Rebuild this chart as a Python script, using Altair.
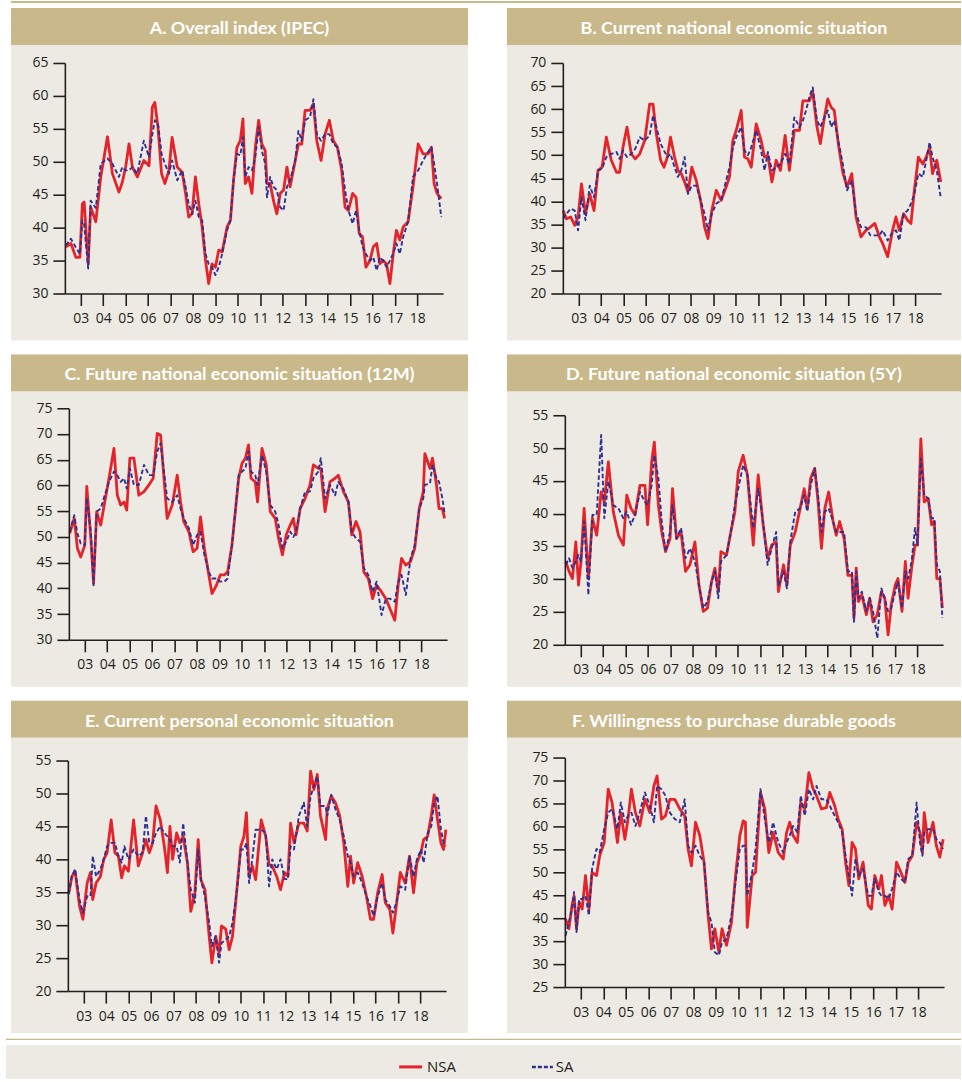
import altair as alt
import pandas as pd

# ---------------- data ----------------
years_A = [2002.33, 2002.56, 2002.78, 2002.96, 2003.07, 2003.15, 2003.33, 2003.44, 2003.67, 2003.89,
           2004.19, 2004.41, 2004.70, 2004.85, 2005.00, 2005.15, 2005.30, 2005.52, 2005.81, 2006.04,
           2006.19, 2006.30, 2006.44, 2006.60, 2006.75, 2006.93, 2007.07, 2007.30, 2007.52, 2007.67,
           2007.81, 2007.96, 2008.11, 2008.26, 2008.41, 2008.56, 2008.70, 2008.85, 2009.00, 2009.15,
           2009.30, 2009.52, 2009.67, 2009.81, 2009.96, 2010.11, 2010.23, 2010.33, 2010.48, 2010.63,
           2010.78, 2010.93, 2011.07, 2011.22, 2011.30, 2011.44, 2011.59, 2011.74, 2011.89, 2012.04,
           2012.19, 2012.33, 2012.56, 2012.70, 2012.85, 2013.00, 2013.22, 2013.37, 2013.52, 2013.71,
           2013.89, 2014.08, 2014.26, 2014.44, 2014.63, 2014.78, 2014.93, 2015.12, 2015.27, 2015.41,
           2015.56, 2015.71, 2015.89, 2016.04, 2016.19, 2016.33, 2016.48, 2016.63, 2016.78, 2016.93,
           2017.07, 2017.22, 2017.37, 2017.59, 2017.81, 2018.04, 2018.26, 2018.48, 2018.63, 2018.75,
           2018.88, 2019.07]
nsa_A = [37.1, 37.6, 35.5, 35.5, 43.6, 43.9, 34.5, 43.1, 40.9, 47.7,
         53.8, 48.2, 45.4, 46.9, 49.2, 52.7, 49.2, 47.7, 50.2, 49.4,
         58.3, 59.0, 55.3, 48.2, 46.7, 48.7, 53.7, 49.2, 48.4, 45.2,
         41.6, 42.1, 47.7, 43.6, 40.1, 35.0, 31.5, 34.5, 34.0, 36.6,
         36.3, 40.1, 41.1, 47.2, 52.2, 53.2, 56.5, 46.7, 47.7, 45.2,
         52.2, 56.3, 52.7, 51.7, 46.7, 46.7, 44.1, 42.1, 45.2, 45.7,
         49.2, 46.2, 50.2, 52.7, 52.7, 57.8, 57.8, 58.8, 53.2, 50.2,
         54.2, 56.3, 53.2, 52.2, 48.7, 43.1, 42.6, 45.2, 44.6, 39.1,
         38.6, 34.0, 35.0, 37.1, 37.6, 34.5, 35.0, 34.5, 31.5, 36.1,
         39.6, 38.1, 40.1, 40.9, 46.2, 52.7, 51.2, 51.2, 52.2, 46.7,
         45.2, 44.4]
sa_A = [37.3, 38.3, 37.0, 36.0, 41.1, 40.5, 33.8, 44.1, 43.0, 49.7,
        50.5, 49.7, 47.7, 49.2, 48.7, 48.7, 49.2, 48.2, 53.2, 50.7,
        54.2, 56.3, 55.8, 51.2, 49.7, 48.2, 50.2, 47.2, 48.7, 46.2,
        43.6, 42.1, 44.1, 41.6, 41.1, 36.0, 34.5, 34.0, 32.8, 34.0,
        36.0, 39.6, 41.1, 47.2, 51.2, 51.0, 53.7, 47.7, 49.2, 48.7,
        50.7, 55.3, 51.7, 49.7, 44.6, 47.7, 46.2, 45.7, 43.1, 42.6,
        46.2, 47.2, 50.2, 54.7, 53.2, 56.3, 56.8, 59.5, 54.2, 53.2,
        54.2, 54.2, 52.7, 52.2, 49.7, 45.7, 42.6, 40.6, 42.6, 39.6,
        37.1, 36.0, 35.0, 35.5, 33.5, 35.5, 35.0, 34.0, 35.0, 36.1,
        37.6, 36.0, 38.6, 40.9, 47.7, 48.7, 50.2, 51.5, 52.2, 49.7,
        46.7, 41.6]

years_B = [2002.30, 2002.45, 2002.64, 2002.82, 2002.97, 2003.12, 2003.30, 2003.49, 2003.68, 2003.86,
           2004.04, 2004.23, 2004.45, 2004.68, 2004.82, 2004.97, 2005.15, 2005.34, 2005.52, 2005.72,
           2005.94, 2006.16, 2006.31, 2006.46, 2006.65, 2006.80, 2006.95, 2007.09, 2007.27, 2007.42,
           2007.57, 2007.72, 2007.87, 2008.04, 2008.24, 2008.43, 2008.61, 2008.76, 2008.93, 2009.13,
           2009.35, 2009.57, 2009.72, 2009.87, 2010.02, 2010.24, 2010.39, 2010.54, 2010.69, 2010.91,
           2011.13, 2011.28, 2011.43, 2011.61, 2011.80, 2011.99, 2012.20, 2012.39, 2012.61, 2012.84,
           2012.99, 2013.13, 2013.28, 2013.43, 2013.62, 2013.77, 2013.95, 2014.10, 2014.25, 2014.39,
           2014.57, 2014.77, 2014.96, 2015.17, 2015.36, 2015.58, 2015.80, 2016.00, 2016.20, 2016.40,
           2016.55, 2016.77, 2016.99, 2017.14, 2017.29, 2017.48, 2017.66, 2017.81, 2017.96, 2018.14,
           2018.34, 2018.49, 2018.64, 2018.77, 2018.96, 2019.14]
nsa_B = [38.0, 36.2, 36.6, 34.8, 36.6, 43.8, 37.3, 41.6, 38.0, 46.7,
         47.4, 53.9, 48.9, 46.3, 46.3, 51.7, 56.1, 50.3, 49.2, 50.3,
         53.2, 61.1, 61.1, 54.6, 48.9, 47.4, 49.6, 53.9, 49.6, 46.7,
         46.0, 44.2, 42.0, 47.4, 44.5, 40.2, 34.4, 31.9, 38.0, 42.4,
         40.2, 43.1, 45.3, 53.2, 55.4, 59.7, 49.6, 49.2, 47.4, 56.8,
         53.2, 49.6, 49.9, 44.2, 48.9, 46.7, 54.3, 46.7, 55.4, 55.4,
         61.8, 61.8, 61.8, 63.7, 56.1, 52.5, 58.2, 62.2, 60.4, 59.7,
         52.5, 46.3, 43.1, 46.0, 36.6, 32.3, 33.7, 34.4, 35.2, 32.3,
         30.8, 28.0, 33.7, 36.6, 33.7, 37.3, 35.9, 35.2, 42.4, 49.6,
         48.1, 49.6, 51.7, 46.0, 48.9, 44.2]
sa_B = [36.2, 37.3, 38.4, 38.0, 33.7, 40.9, 35.9, 43.4, 40.9, 46.7,
        47.1, 49.6, 50.3, 50.7, 49.2, 51.0, 49.6, 50.3, 51.4, 53.9,
        53.2, 54.3, 58.6, 56.1, 52.5, 51.0, 49.6, 50.3, 47.4, 45.3,
        46.7, 49.6, 41.6, 43.4, 43.4, 40.2, 37.3, 33.7, 37.3, 39.5,
        40.2, 44.5, 47.4, 51.7, 53.9, 56.1, 51.0, 50.0, 51.7, 55.4,
        51.0, 46.7, 50.7, 46.7, 47.4, 48.1, 50.3, 48.1, 58.2, 56.1,
        57.5, 59.7, 62.6, 64.7, 57.5, 56.1, 58.2, 59.7, 56.1, 57.5,
        53.2, 48.1, 42.4, 44.5, 37.3, 34.4, 34.4, 32.6, 32.6, 32.6,
        33.7, 31.5, 33.3, 33.7, 31.5, 37.3, 38.0, 39.5, 41.6, 46.0,
        45.3, 48.9, 52.8, 49.6, 46.7, 40.6]

years_C = [2002.33, 2002.53, 2002.67, 2002.82, 2003.00, 2003.09, 2003.27, 2003.39, 2003.53, 2003.71,
           2003.89, 2004.08, 2004.30, 2004.45, 2004.60, 2004.75, 2004.87, 2005.01, 2005.19, 2005.41,
           2005.64, 2005.86, 2006.05, 2006.23, 2006.38, 2006.53, 2006.67, 2006.90, 2007.12, 2007.27,
           2007.41, 2007.64, 2007.83, 2008.01, 2008.16, 2008.33, 2008.53, 2008.67, 2008.87, 2009.04,
           2009.22, 2009.37, 2009.56, 2009.71, 2009.86, 2010.01, 2010.16, 2010.30, 2010.41, 2010.60,
           2010.70, 2010.90, 2011.09, 2011.27, 2011.49, 2011.64, 2011.81, 2011.98, 2012.16, 2012.30,
           2012.42, 2012.60, 2012.82, 2013.04, 2013.19, 2013.41, 2013.52, 2013.71, 2013.93, 2014.16,
           2014.30, 2014.53, 2014.75, 2014.90, 2015.09, 2015.27, 2015.44, 2015.64, 2015.83, 2016.01,
           2016.23, 2016.42, 2016.60, 2016.82, 2016.97, 2017.12, 2017.31, 2017.52, 2017.71, 2017.91,
           2018.09, 2018.16, 2018.39, 2018.50, 2018.68, 2018.79, 2018.94, 2019.04]
nsa_C = [50.7, 53.6, 47.8, 46.1, 48.4, 59.8, 49.7, 41.0, 54.9, 52.3,
         56.8, 61.4, 67.2, 58.1, 56.2, 56.8, 55.2, 65.3, 65.3, 58.1,
         58.8, 60.1, 61.4, 70.1, 69.8, 61.4, 53.6, 56.2, 62.0, 56.8,
         53.0, 51.0, 47.1, 47.8, 53.9, 47.8, 42.6, 39.0, 40.6, 42.6,
         42.6, 43.2, 48.4, 54.9, 61.4, 64.3, 65.3, 67.9, 61.4, 60.7,
         56.8, 67.2, 64.0, 54.9, 53.6, 49.7, 46.5, 50.4, 52.3, 53.6,
         50.4, 55.5, 57.5, 60.1, 64.0, 63.3, 63.3, 54.9, 60.7, 61.4,
         62.0, 58.8, 56.8, 50.4, 53.0, 51.0, 43.2, 41.9, 38.0, 40.6,
         39.3, 38.0, 36.1, 33.8, 40.6, 45.8, 44.5, 45.2, 47.8, 55.5,
         58.8, 66.2, 63.3, 65.3, 60.1, 55.5, 55.5, 53.6]
sa_C = [51.0, 54.2, 50.7, 48.7, 48.4, 57.5, 51.0, 40.6, 54.9, 55.5,
        58.1, 60.7, 62.7, 62.0, 60.7, 61.4, 59.4, 63.3, 60.1, 60.1,
        64.0, 62.0, 62.0, 66.6, 68.2, 62.7, 57.5, 56.8, 58.1, 55.5,
        53.6, 51.7, 48.4, 50.4, 51.0, 46.5, 43.2, 41.9, 41.9, 41.3,
        41.3, 41.9, 48.4, 54.9, 62.0, 62.7, 63.3, 66.6, 62.7, 62.0,
        60.1, 65.9, 62.7, 56.2, 54.9, 52.3, 47.8, 49.1, 51.0, 50.0,
        51.0, 55.5, 58.8, 58.8, 61.4, 62.7, 65.3, 57.5, 60.1, 58.1,
        60.7, 59.4, 56.8, 51.0, 49.7, 49.1, 43.9, 42.6, 39.3, 41.3,
        34.8, 38.0, 38.0, 37.4, 41.3, 42.6, 38.7, 45.8, 48.4, 55.5,
        57.5, 60.1, 60.4, 64.0, 61.4, 60.7, 57.5, 54.6]

years_D = [2002.33, 2002.48, 2002.63, 2002.78, 2002.90, 2003.01, 2003.15, 2003.34, 2003.52, 2003.71,
           2003.91, 2004.05, 2004.23, 2004.45, 2004.68, 2004.90, 2005.05, 2005.24, 2005.42, 2005.64,
           2005.86, 2005.98, 2006.16, 2006.28, 2006.46, 2006.61, 2006.78, 2006.98, 2007.09, 2007.27,
           2007.47, 2007.67, 2007.87, 2008.09, 2008.27, 2008.46, 2008.65, 2008.83, 2008.98, 2009.13,
           2009.25, 2009.50, 2009.69, 2009.87, 2010.02, 2010.24, 2010.43, 2010.69, 2010.91, 2011.13,
           2011.33, 2011.51, 2011.71, 2011.81, 2012.04, 2012.19, 2012.34, 2012.56, 2012.78, 2012.96,
           2013.10, 2013.25, 2013.43, 2013.58, 2013.73, 2013.88, 2014.05, 2014.25, 2014.39, 2014.54,
           2014.74, 2014.91, 2015.09, 2015.18, 2015.28, 2015.38, 2015.53, 2015.73, 2015.88, 2016.03,
           2016.22, 2016.40, 2016.55, 2016.70, 2016.84, 2017.02, 2017.14, 2017.32, 2017.47, 2017.59,
           2017.75, 2017.90, 2018.01, 2018.16, 2018.31, 2018.49, 2018.64, 2018.76, 2018.87, 2019.01,
           2019.12]
nsa_D = [32.7, 31.2, 30.1, 35.7, 29.1, 32.7, 40.8, 30.1, 39.3, 36.7,
         43.3, 41.8, 47.9, 40.3, 36.7, 35.2, 42.8, 40.8, 39.8, 44.3,
         44.3, 38.3, 47.9, 50.9, 41.3, 37.2, 34.2, 36.2, 43.8, 36.2,
         37.2, 31.2, 32.2, 35.7, 29.1, 25.1, 25.6, 29.6, 31.7, 28.1,
         34.2, 33.7, 37.2, 40.3, 46.4, 48.9, 45.9, 35.2, 45.9, 38.3,
         33.2, 35.2, 35.7, 28.1, 32.2, 29.1, 35.2, 37.2, 40.8, 43.8,
         40.8, 45.4, 46.9, 41.8, 34.7, 40.8, 43.3, 38.8, 36.7, 38.8,
         36.2, 30.6, 30.6, 24.1, 31.7, 26.6, 27.6, 24.6, 27.1, 23.5,
         24.6, 28.1, 27.1, 21.5, 26.1, 29.1, 30.1, 25.1, 32.7, 27.1,
         31.7, 35.2, 35.2, 51.4, 41.8, 42.3, 38.3, 38.8, 30.1, 30.1,
         25.6]
sa_D = [32.2, 33.2, 31.7, 32.7, 33.7, 32.7, 38.8, 27.6, 39.8, 39.8,
        52.0, 39.3, 44.9, 41.3, 40.8, 39.3, 40.3, 38.3, 39.8, 43.3,
        41.8, 41.3, 44.3, 48.9, 45.4, 38.8, 34.2, 37.2, 41.3, 36.2,
        37.8, 33.2, 34.7, 32.7, 29.1, 25.6, 26.6, 29.6, 31.2, 27.1,
        32.7, 33.7, 37.2, 41.3, 43.8, 47.4, 45.9, 37.8, 43.8, 38.8,
        32.2, 34.7, 37.2, 29.1, 31.2, 28.6, 35.7, 40.3, 40.8, 42.8,
        40.3, 44.3, 46.9, 42.8, 37.2, 40.3, 40.8, 38.8, 37.2, 37.2,
        37.2, 31.2, 31.2, 23.5, 31.2, 27.1, 28.1, 25.1, 27.1, 25.1,
        21.0, 28.6, 27.1, 25.1, 25.6, 28.1, 29.6, 25.6, 31.2, 30.1,
        32.7, 37.8, 35.2, 48.4, 42.8, 42.3, 39.3, 39.3, 32.2, 31.2,
        24.1]

years_E = [2002.33, 2002.47, 2002.61, 2002.81, 2002.96, 2003.15, 2003.30, 2003.40, 2003.55, 2003.74,
           2003.89, 2004.04, 2004.22, 2004.39, 2004.54, 2004.69, 2004.81, 2004.99, 2005.22, 2005.43,
           2005.62, 2005.77, 2005.92, 2006.07, 2006.22, 2006.41, 2006.59, 2006.73, 2006.84, 2006.96,
           2007.14, 2007.28, 2007.43, 2007.62, 2007.77, 2007.95, 2008.10, 2008.22, 2008.40, 2008.59,
           2008.71, 2008.88, 2009.03, 2009.14, 2009.33, 2009.48, 2009.63, 2009.85, 2010.00, 2010.14,
           2010.25, 2010.37, 2010.51, 2010.66, 2010.91, 2011.11, 2011.26, 2011.40, 2011.60, 2011.77,
           2011.95, 2012.10, 2012.22, 2012.37, 2012.59, 2012.81, 2012.96, 2013.11, 2013.26, 2013.41,
           2013.55, 2013.78, 2013.85, 2014.03, 2014.22, 2014.41, 2014.59, 2014.77, 2014.89, 2015.03,
           2015.21, 2015.41, 2015.60, 2015.78, 2015.92, 2016.10, 2016.30, 2016.44, 2016.64, 2016.78,
           2016.93, 2017.11, 2017.33, 2017.52, 2017.70, 2017.85, 2018.03, 2018.15, 2018.33, 2018.49,
           2018.62, 2018.77, 2018.92, 2019.04, 2019.14]
nsa_E = [34.9, 37.4, 38.2, 32.9, 30.9, 36.4, 38.0, 33.9, 36.4, 37.4,
         40.0, 41.0, 46.0, 41.0, 40.5, 37.2, 39.0, 38.2, 46.0, 39.0,
         41.0, 43.0, 41.0, 42.5, 48.1, 46.0, 42.0, 38.0, 45.0, 40.0,
         44.0, 42.5, 43.5, 39.5, 32.1, 34.9, 43.0, 36.9, 35.4, 28.3,
         24.3, 28.3, 25.8, 29.9, 29.4, 26.3, 28.3, 36.4, 42.0, 43.5,
         47.1, 37.4, 39.0, 36.9, 46.0, 43.5, 39.2, 39.0, 37.4, 35.4,
         38.0, 37.4, 45.5, 42.5, 45.5, 45.5, 44.3, 53.4, 50.6, 52.9,
         46.6, 43.0, 47.6, 49.6, 48.6, 46.6, 42.5, 35.9, 40.5, 36.4,
         39.5, 37.4, 34.4, 30.9, 30.9, 34.9, 37.7, 33.4, 32.4, 28.8,
         32.9, 38.0, 36.4, 40.5, 34.9, 39.5, 41.0, 43.0, 43.5, 46.6,
         49.8, 46.0, 42.5, 41.5, 44.5]
sa_E = [34.7, 37.4, 38.5, 33.9, 31.9, 34.4, 34.4, 40.5, 37.4, 38.5,
        40.0, 42.0, 42.5, 42.5, 40.5, 39.5, 42.0, 40.0, 41.5, 40.5,
        41.0, 46.6, 42.5, 42.5, 44.0, 45.0, 44.0, 43.5, 43.0, 42.0,
        42.0, 39.5, 45.5, 39.5, 35.4, 33.4, 41.5, 36.9, 34.4, 30.4,
        26.8, 28.3, 24.3, 27.3, 27.8, 28.3, 30.4, 35.9, 41.5, 41.5,
        42.5, 36.4, 40.0, 44.5, 44.5, 44.0, 35.9, 40.0, 38.5, 40.0,
        37.0, 37.0, 42.0, 41.5, 46.6, 48.6, 45.0, 49.6, 51.1, 52.6,
        48.1, 48.1, 46.6, 49.8, 47.6, 46.0, 43.5, 40.5, 39.5, 37.4,
        38.0, 36.4, 34.4, 32.9, 31.4, 34.4, 36.4, 33.9, 32.9, 31.9,
        33.4, 35.9, 35.4, 40.5, 37.4, 40.0, 41.5, 39.5, 44.0, 45.0,
        48.6, 49.6, 44.5, 42.5, 42.0]

years_F = [2002.32, 2002.47, 2002.61, 2002.70, 2002.81, 2002.93, 2003.06, 2003.21, 2003.36, 2003.50,
           2003.70, 2003.84, 2004.04, 2004.22, 2004.39, 2004.63, 2004.78, 2004.96, 2005.10, 2005.25,
           2005.43, 2005.62, 2005.85, 2006.07, 2006.25, 2006.39, 2006.59, 2006.76, 2006.96, 2007.18,
           2007.40, 2007.62, 2007.77, 2007.92, 2008.10, 2008.29, 2008.48, 2008.66, 2008.81, 2008.96,
           2009.14, 2009.28, 2009.48, 2009.70, 2009.88, 2010.07, 2010.22, 2010.32, 2010.40, 2010.62,
           2010.77, 2010.99, 2011.18, 2011.36, 2011.55, 2011.78, 2012.00, 2012.15, 2012.29, 2012.44,
           2012.63, 2012.78, 2012.96, 2013.14, 2013.33, 2013.48, 2013.70, 2013.92, 2014.07, 2014.29,
           2014.44, 2014.62, 2014.77, 2014.92, 2015.06, 2015.21, 2015.36, 2015.55, 2015.78, 2015.92,
           2016.07, 2016.25, 2016.37, 2016.52, 2016.69, 2016.84, 2017.04, 2017.23, 2017.41, 2017.56,
           2017.74, 2017.93, 2018.08, 2018.19, 2018.27, 2018.44, 2018.66, 2018.81, 2018.96, 2019.11]
nsa_F = [39.9, 37.7, 42.8, 44.9, 37.7, 43.5, 42.0, 49.3, 42.0, 50.0,
         49.3, 53.6, 56.5, 68.1, 65.2, 56.5, 63.0, 57.2, 61.6, 68.1,
         63.0, 60.1, 65.9, 63.0, 68.8, 71.0, 61.6, 62.3, 65.9, 65.9,
         63.8, 62.3, 55.1, 51.4, 60.9, 58.0, 52.2, 40.6, 33.3, 37.7,
         32.6, 37.7, 34.1, 39.1, 49.3, 58.0, 61.2, 60.9, 38.0, 49.3,
         50.0, 67.4, 63.8, 54.3, 58.7, 54.3, 52.9, 58.7, 60.9, 58.0,
         56.5, 65.2, 63.8, 71.7, 68.1, 66.7, 63.8, 64.1, 67.4, 64.5,
         61.6, 59.4, 52.2, 47.1, 56.5, 55.1, 48.6, 52.2, 42.8, 42.0,
         49.3, 46.4, 49.3, 42.8, 44.9, 42.0, 52.2, 50.0, 47.8, 52.2,
         53.6, 60.9, 58.7, 54.3, 63.0, 56.5, 60.9, 55.8, 53.3, 57.2]
sa_F = [36.2, 39.1, 42.0, 45.7, 37.0, 44.2, 44.2, 44.9, 40.6, 50.7,
        55.1, 54.3, 59.4, 63.0, 63.8, 59.4, 65.2, 60.9, 62.3, 63.0,
        60.1, 63.0, 67.4, 64.5, 60.9, 68.8, 68.1, 66.7, 63.0, 61.6,
        60.9, 65.9, 55.8, 54.3, 55.8, 53.6, 52.2, 41.3, 39.1, 32.6,
        31.9, 34.8, 35.5, 40.6, 47.8, 55.1, 55.8, 55.8, 44.9, 50.0,
        55.1, 68.1, 61.6, 56.5, 60.9, 56.5, 54.3, 56.5, 58.0, 60.1,
        58.7, 66.7, 62.3, 68.1, 65.9, 68.8, 65.9, 65.9, 64.5, 62.3,
        60.9, 58.7, 53.6, 49.3, 44.9, 52.9, 49.3, 50.7, 44.9, 44.9,
        48.6, 45.7, 44.9, 44.9, 44.2, 46.4, 50.0, 48.6, 47.8, 52.9,
        53.6, 65.2, 56.5, 53.6, 58.7, 59.4, 59.4, 57.2, 56.5, 55.1]

titles = ["A. Overall index (IPEC)",
          "B. Current national economic situation",
          "C. Future national economic situation (12M)",
          "D. Future national economic situation (5Y)",
          "E. Current personal economic situation",
          "F. Willingness to purchase durable goods"]
y_domains = [(30, 65), (20, 70), (30, 75), (20, 55), (20, 55), (25, 75)]
year_ticks = list(range(2003, 2019))
legend_labels = ["NSA", "SA"]

# ---------------- style ----------------
TAN = "#c8b88a"
BG = "#edeae3"
RED = "#e4232a"
BLUE = "#2e3192"
INK = "#231f20"
PH = 333
PW = [458, 455]
X_DOMAIN = [2002.29, 2019.15]
TITLE_FONT = "Lato"
LABEL_FONT = "Open Sans"


def one():
    return pd.DataFrame({"k": [0]})


def panel(i, years, nsa, sa, xr, yr, extras=()):
    col = i % 2
    W = PW[col]
    ymin, ymax = y_domains[i]
    xs = alt.Scale(domain=X_DOMAIN, range=xr, nice=False, zero=False)
    ys = alt.Scale(domain=[ymin, ymax], range=yr, nice=False, zero=False)
    common = dict(domainColor=INK, domainWidth=1.6, tickColor=INK, tickWidth=1.6,
                  tickSize=12, labelFont=LABEL_FONT, labelFontSize=14, labelColor=INK,
                  grid=False, labelFlush=False, labelOverlap=False, zindex=1, title=None)
    xax = alt.Axis(values=year_ticks, labelExpr="substring(toString(datum.value), 2, 4)",
                   offset=-(PH - yr[0]), labelPadding=6, **common)
    yax = alt.Axis(values=list(range(ymin, ymax + 1, 5)), format="d",
                   offset=-xr[0], labelPadding=5, **common)
    X = alt.X("year:Q", scale=xs, axis=xax)
    Y = alt.Y("value:Q", scale=ys, axis=yax)

    bg = alt.Chart(one()).mark_rect(color=BG).encode(
        x=alt.value(0), x2=alt.value(W), y=alt.value(0), y2=alt.value(PH))
    bar = alt.Chart(one()).mark_rect(color=TAN).encode(
        x=alt.value(0), x2=alt.value(W), y=alt.value(0), y2=alt.value(37))
    ttl = alt.Chart(one()).mark_text(
        text=titles[i], color="white", font=TITLE_FONT, fontSize=18, fontWeight="bold",
        align="center", baseline="middle").encode(x=alt.value(W / 2), y=alt.value(21))
    l_nsa = alt.Chart(pd.DataFrame({"year": years, "value": nsa})).mark_line(
        color=RED, strokeWidth=2.8, strokeJoin="round").encode(x=X, y=Y)
    l_sa = alt.Chart(pd.DataFrame({"year": years, "value": sa})).mark_line(
        color=BLUE, strokeWidth=1.9, strokeDash=[4.5, 2.5], strokeJoin="round").encode(x=X, y=Y)
    return alt.layer(bg, bar, ttl, l_nsa, l_sa, *extras).properties(width=W, height=PH)


# top rule (in panel A, spanning the page)
top_rule = alt.Chart(one()).mark_rule(color=TAN, strokeWidth=2).encode(
    x=alt.value(0), x2=alt.value(952), y=alt.value(-6))

# legend (drawn under panel E)
leg_line = alt.Chart(one()).mark_rule(color=TAN, strokeWidth=1.2).encode(
    x=alt.value(-5), x2=alt.value(952), y=alt.value(339.5))
leg_box = alt.Chart(one()).mark_rect(color=BG).encode(
    x=alt.value(-5), x2=alt.value(952), y=alt.value(345), y2=alt.value(379))
leg_red = alt.Chart(one()).mark_rule(color=RED, strokeWidth=3).encode(
    x=alt.value(389), x2=alt.value(412), y=alt.value(367))
leg_blue = alt.Chart(one()).mark_rule(color=BLUE, strokeWidth=2.5, strokeDash=[4, 2]).encode(
    x=alt.value(522), x2=alt.value(543), y=alt.value(367))
leg_t1 = alt.Chart(one()).mark_text(text=legend_labels[0], color=INK, font=LABEL_FONT,
                                    fontSize=15, align="left", baseline="middle").encode(
    x=alt.value(417), y=alt.value(367))
leg_t2 = alt.Chart(one()).mark_text(text=legend_labels[1], color=INK, font=LABEL_FONT,
                                    fontSize=15, align="left", baseline="middle").encode(
    x=alt.value(546), y=alt.value(367))

pA = panel(0, years_A, nsa_A, sa_A, [54, 433], [286, 55], extras=[top_rule])
pB = panel(1, years_B, nsa_B, sa_B, [56, 435], [286, 55])
pC = panel(2, years_C, nsa_C, sa_C, [58, 437], [286, 54])
pD = panel(3, years_D, nsa_D, sa_D, [58, 437], [291, 61])
pE = panel(4, years_E, nsa_E, sa_E, [57, 436], [291, 60],
           extras=[leg_line, leg_box, leg_red, leg_blue, leg_t1, leg_t2])
pF = panel(5, years_F, nsa_F, sa_F, [58, 438], [287, 57])

chart = alt.concat(pA, pB, pC, pD, pE, pF, columns=2,
                   spacing=alt.RowColnumber(row=14, column=39),
                   bounds="flush").resolve_scale(
    x="independent", y="independent").properties(
    padding={"left": 5, "top": 0, "right": 0, "bottom": 0},
    background="white").configure_view(stroke=None)

chart.save("out.html", embed_options={"renderer": "svg", "actions": False})
